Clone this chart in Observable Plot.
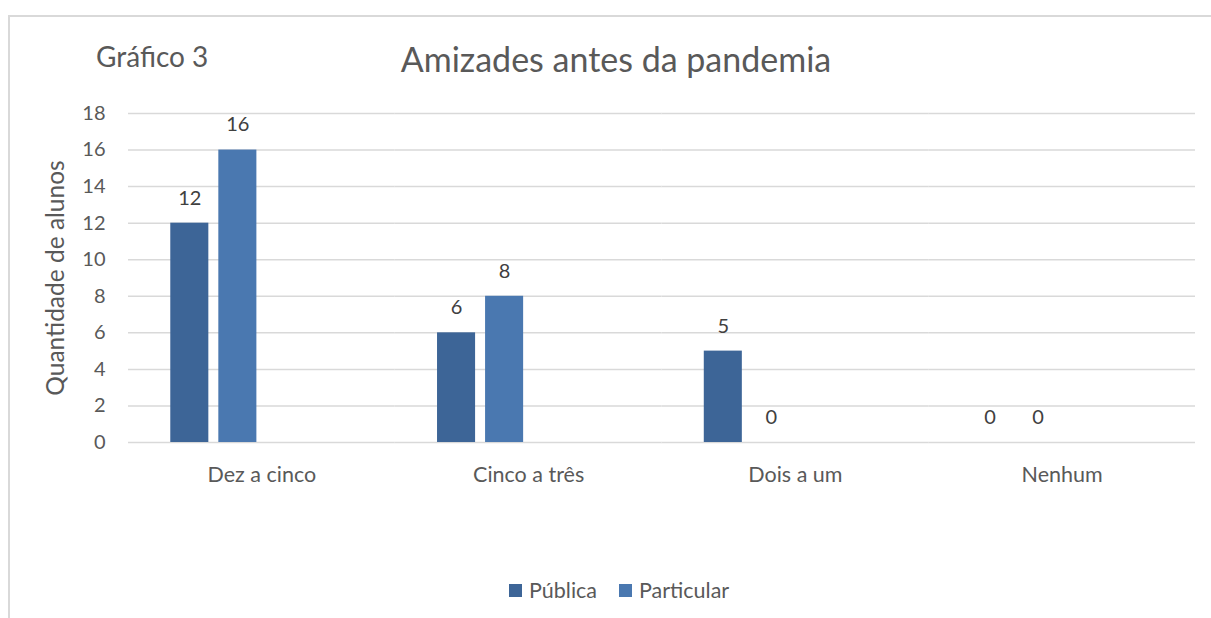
<!DOCTYPE html>
<html>
<head>
<meta charset="utf-8">
<script src="https://cdn.jsdelivr.net/npm/d3@7"></script>
<script src="https://cdn.jsdelivr.net/npm/@observablehq/plot@0.6"></script>
<style>
  html, body { margin: 0; padding: 0; background: #fff; }
  #wrap { position: relative; width: 1211px; height: 618px; overflow: hidden; font-family: Lato, "Open Sans", sans-serif; color: #595959; }
  #frame { position: absolute; left: 8px; top: 15px; width: 1300px; height: 700px; border-top: 2px solid #d9d9d9; border-left: 2px solid #d9d9d9; }
  #title { position: absolute; left: 616px; top: 38px; transform: translateX(-50%); font-size: 34px; white-space: nowrap; }
  #label3 { position: absolute; left: 96px; top: 39px; font-size: 28px; white-space: nowrap; }
  #legend { position: absolute; left: 509px; top: 577px; font-size: 21.5px; display: flex; align-items: center; white-space: nowrap; }
  #legend .sw { display: inline-block; width: 13px; height: 13px; margin-right: 7px; }
  #legend .item { display: flex; align-items: center; margin-right: 22px; }
  #chart { position: absolute; left: 0; top: 0; }
</style>
</head>
<body>
<div id="wrap">
  <div id="frame"></div>
  <div id="chart"></div>
  <div id="title">Amizades antes da pandemia</div>
  <div id="label3">Gráfico 3</div>
  <div id="legend"></div>
</div>
<script>
const categories = ["Dez a cinco", "Cinco a três", "Dois a um", "Nenhum"];
const series = ["Pública", "Particular"];
const publica = [12, 6, 5, 0];
const particular = [16, 8, 0, 0];
const yTicks = [0, 2, 4, 6, 8, 10, 12, 14, 16, 18];
const colors = ["#3d6597", "#4a78b0"];

// Excel cluster has four slots; the last two are empty
const slots = [...series, "_3", "_4"];

const data = [];
categories.forEach((c, i) => {
  data.push({cat: c, serie: series[0], value: publica[i]});
  data.push({cat: c, serie: series[1], value: particular[i]});
});

const chart = Plot.plot({
  width: 1211,
  height: 618,
  marginLeft: 128,
  marginRight: 16,
  marginTop: 113,
  marginBottom: 176,
  style: {fontFamily: "Lato, 'Open Sans', sans-serif", color: "#595959", background: "transparent"},
  fx: {domain: categories, padding: 0, round: false, label: null, axis: null},
  x: {domain: slots, paddingInner: 0.208, paddingOuter: 0.88, round: false, axis: null},
  y: {domain: [0, 18], ticks: yTicks, label: null, axis: null},
  color: {domain: series, range: colors},
  marks: [
    Plot.gridY(yTicks, {stroke: "#d9d9d9", strokeOpacity: 1, strokeWidth: 1.5}),
    Plot.barY(data, {fx: "cat", x: "serie", y: "value", fill: "serie", inset: 0}),
    Plot.text(data, {fx: "cat", x: "serie", y: "value", text: d => String(d.value), dy: -25, fontSize: 20, fill: "#404040", lineAnchor: "middle"}),
    Plot.axisY({ticks: yTicks, tickSize: 0, tickPadding: 23, fontSize: 20, label: null}),
    Plot.axisFx({anchor: "bottom", tickSize: 0, tickPadding: 24, fontSize: 21.5, label: null})
  ]
});
document.getElementById("chart").appendChild(chart);

// y axis title
const svg = d3.select(chart);
svg.append("text")
  .attr("transform", "translate(58,278) rotate(-90)")
  .attr("text-anchor", "middle")
  .attr("dominant-baseline", "middle")
  .attr("font-size", 24.5)
  .attr("fill", "#595959")
  .text("Quantidade de alunos");

const legend = document.getElementById("legend");
series.forEach((s, i) => {
  const item = document.createElement("span");
  item.className = "item";
  const sw = document.createElement("span");
  sw.className = "sw";
  sw.style.background = colors[i];
  item.appendChild(sw);
  item.appendChild(document.createTextNode(s));
  legend.appendChild(item);
});
</script>
</body>
</html>
